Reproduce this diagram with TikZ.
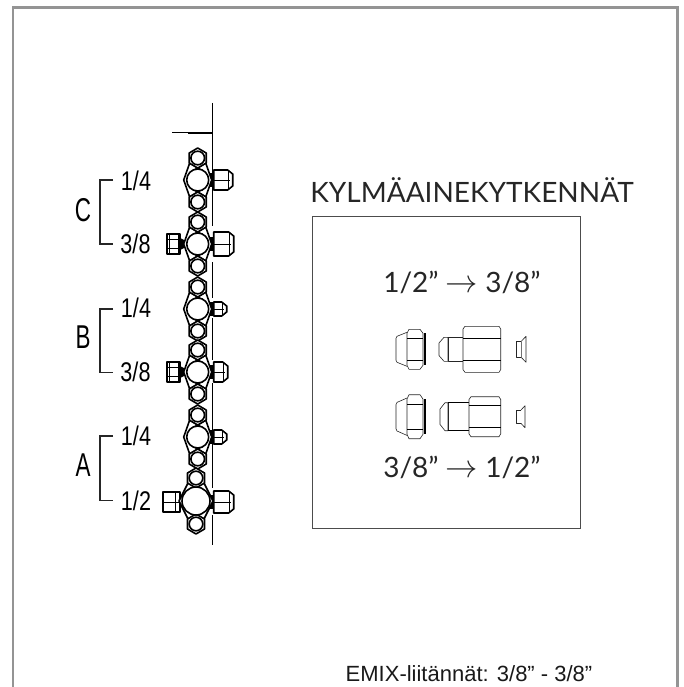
\documentclass[tikz,border=0pt]{standalone}
\usepackage{fontspec}
\setmainfont{Liberation Sans}
\newfontfamily\dinfont{Lato}
\tikzset{
    partline/.style={draw=black, fill=white, line width=1.6pt, line join=round},
    thinpart/.style={draw=black!85, fill=white, line width=0.6pt, line join=round},
    caplabel/.style={anchor=base, inner sep=0pt, font=\fontsize{27}{27}\selectfont, xscale=0.8, transform shape},
    grouplabel/.style={anchor=center, inner sep=0pt, font=\fontsize{33}{33}\selectfont, xscale=0.68, transform shape},
    bracketline/.style={line width=1.3pt, black!85},
    dinlabel/.style={anchor=base, inner sep=0pt, text=black!85, font=\dinfont\fontsize{28}{28}\selectfont},
    % small hexagon above and below each valve
    pics/hexcap/.style={code={
        \draw[partline] (0,-10) -- (8.5,-5) -- (8.5,5) -- (0,10) -- (-8.5,5) -- (-8.5,-5) -- cycle;
        \draw[partline] (0,0) circle (6.8);
    }},
    % hub with its two hexagons, #1 hub radius, #2 distance to the hexagons
    pics/valvecore/.style 2 args={code={
        \draw[partline] (-8,-#2+5) -- ({-#1-3},0) -- (-8,#2-5) -- (8,#2-5) -- ({#1+3},0) -- (8,-#2+5) -- cycle;
        \draw[line width=1.6pt] (-8,-#2+5) -- (5,-#1+2) (8,-#2+5) -- (-5,-#1+2);
        \draw[line width=1.6pt] (-8,#2-5) -- (5,#1-2) (8,#2-5) -- (-5,#1-2);
        \pic at (0,-#2) {hexcap};
        \pic at (0,#2) {hexcap};
        \draw[partline] (0,0) circle (#1);
    }},
    % fitting on the right, #1 length, #2 half height
    pics/rightfit/.style 2 args={code={
        \fill (11,-7) rectangle (17,7);
        \draw[partline] (16,-#2) -- (#1-5,-#2) -- (#1,-#2+4) -- (#1,#2-4) -- (#1-5,#2) -- (16,#2) -- cycle;
        \draw[line width=0.9pt] (16,0) -- (#1-3,0) (#1-4,-#2+1) -- (#1-4,#2-1);
    }},
    % fitting on the left
    pics/leftfit/.style={code={
        \fill (0,-6) -- (8,-2) -- (8,2) -- (0,6) -- cycle;
        \draw[partline] (-13,-10) rectangle (0,10);
        \draw[line width=0.9pt] (-11,-10) -- (-11,10) (-2,-10) -- (-2,10) (-13,-4.5) -- (0,-4.5) (-13,4.5) -- (0,4.5);
    }},
    % nut of the adapter set
    pics/capnut/.style={code={
        \draw[thinpart] (11,-17) -- (1,-13) -- (0,-11) -- (0,11) -- (1,13) -- (11,17);
        \draw[thinpart] (13,-20) -- (24,-20) -- (27,-16) -- (27,16) -- (24,20) -- (13,20) -- (11,16) -- (11,-16) -- cycle;
        \draw[line width=0.6pt] (11,-11) -- (27,-11) (11,11) -- (27,11);
        \draw[line width=1.3pt] (29,-16) -- (29,16);
    }}
}
\newcommand{\textarrow}{\scalebox{1.3}{$\rightarrow$}}
\begin{document}
\begin{tikzpicture}[x=1pt, y=-1pt]
    \useasboundingbox (0,0) rectangle (683,687);
    % outer frame, open at the bottom
    \draw[line width=2.6pt, black!42] (13,687) -- (13,7.3) -- (677.5,7.3) -- (677.5,687);
    % mast of the manifold
    \draw[line width=1.1pt] (212.7,103) -- (212.7,226) (212.7,262) -- (212.7,298) (212.7,318) -- (212.7,360)
        (212.7,383) -- (212.7,430) (212.7,443) -- (212.7,488) (212.7,515) -- (212.7,545);
    \draw[line width=1.1pt] (172,132.7) -- (212.7,132.7);
    \draw[line width=2pt] (188,132.7) -- (212.7,132.7);
    % right fittings go under the valves
    \pic at (197.7,180) {rightfit={35}{10}};
    \pic at (197.7,309) {rightfit={29}{7}};
    \pic at (197.7,437) {rightfit={29}{7}};
    \pic at (197.7,244) {rightfit={36}{12}};
    \pic at (197.7,372) {rightfit={30}{10}};
    \pic at (197.7,502) {rightfit={36}{11}};
    \pic at (180,244) {leftfit};
    \pic at (180,372) {leftfit};
    % the wider left fitting of the big valve
    \draw[partline] (162.7,492) rectangle (180,512);
    \draw[line width=0.9pt] (162.7,502) -- (180,502) (175,492) -- (175,512);
    % valves
    \foreach \yv in {180,244,309,372,437} {
        \pic at (197.7,\yv) {valvecore={11}{22}};
    }
    \pic at (196,501) {valvecore={14}{23}};
    % brackets
    \draw[bracketline] (113,180) -- (100,180) -- (100,244) -- (113,244);
    \draw[bracketline] (113,309) -- (100,309) -- (100,372.7) -- (113,372.7);
    \draw[bracketline] (113,436) -- (100,436) -- (100,500.7) -- (113,500.7);
    \node[grouplabel] (groupc) at (83,210) {C};
    \node[grouplabel] (groupb) at (83,337) {B};
    \node[grouplabel] (groupa) at (83,465) {A};
    \node[caplabel] (cquarter) at (136,190) {1/4};
    \node[caplabel] (ceighth) at (135.5,253) {3/8};
    \node[caplabel] (bquarter) at (136,317.7) {1/4};
    \node[caplabel] (beighth) at (135.5,381) {3/8};
    \node[caplabel] (aquarter) at (136,445.7) {1/4};
    \node[caplabel] (ahalf) at (136,510) {1/2};
    % adapter panel
    \node[dinlabel] (paneltitle) at (472,202) {KYLMÄAINEKYTKENNÄT};
    \draw[line width=0.9pt, black!70] (312,216) rectangle (580,528);
    \node[dinlabel] (halftoeighth) at (462,292) {1/2” \textarrow{} 3/8”};
    \node[dinlabel] (eighthtohalf) at (462,477) {3/8” \textarrow{} 1/2”};
    % upper row
    \pic at (396,349.3) {capnut};
    \draw[thinpart] (448,337.3) -- (444,337.3) -- (439,343) -- (439,355.6) -- (444,361.3) -- (448,361.3) -- cycle;
    \draw[thinpart] (448,337.3) rectangle (463,361.3);
    \draw[thinpart] (463,329) -- (465,326.3) -- (499,326.3) -- (500.7,329) -- (500.7,369.6) -- (499,372.3) -- (465,372.3) -- (463,369.6) -- cycle;
    \draw[line width=0.6pt] (463,338) -- (500.7,338) (463,360.6) -- (500.7,360.6);
    \draw[thinpart] (516.7,341) rectangle (521.5,357.6);
    \draw[thinpart] (521.5,341) -- (526,336.3) -- (526,362.3) -- (521.5,357.6);
    % lower row
    \pic[yscale=1.1] at (396,416.7) {capnut};
    \draw[thinpart] (448,402.7) -- (445,402.7) -- (440,409) -- (440,424.4) -- (445,430.7) -- (448,430.7) -- cycle;
    \draw[thinpart] (448,402.7) rectangle (469,430.7);
    \draw[line width=1pt] (448,402.7) -- (469,402.7) (448,430.7) -- (469,430.7) (469,402.7) -- (469,430.7);
    \draw[thinpart] (469,399.5) -- (471,396.7) -- (499,396.7) -- (500.7,399.5) -- (500.7,433.9) -- (499,436.7) -- (471,436.7) -- (469,433.9) -- cycle;
    \draw[line width=0.6pt] (469,405.7) -- (500.7,405.7) (469,427.7) -- (500.7,427.7);
    \draw[thinpart] (516.7,410) rectangle (521,423.4);
    \draw[thinpart] (521,410) -- (525,405.7) -- (525,427.7) -- (521,423.4);
    % note at the foot
    \node[anchor=base, inner sep=0pt, text=black!90, font=\fontsize{22}{22}\selectfont] (emixnote) at (469,681) {EMIX-liitännät: 3/8” - 3/8”};
\end{tikzpicture}
\end{document}
